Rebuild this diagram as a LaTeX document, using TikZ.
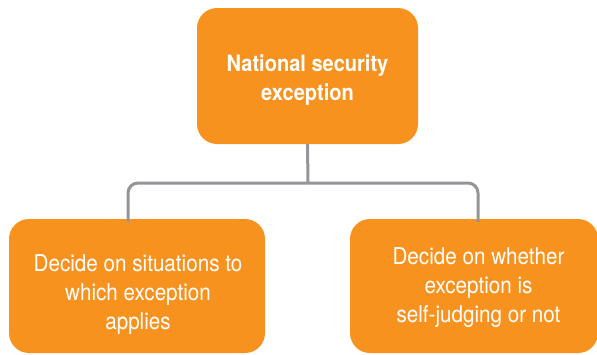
\documentclass[tikz,border=0pt]{standalone}
\usepackage{fontspec}
\setmainfont{TeX Gyre Heros}[FakeStretch=0.89]
\usepackage{tikz}
\usetikzlibrary{positioning,calc}
\definecolor{boxorange}{HTML}{F7921E}
\definecolor{linkgray}{HTML}{939598}
\tikzset{
  orgbox/.style={fill=boxorange,draw=none,rounded corners=20pt,inner sep=0pt},
  orgtext/.style={text=white,align=center,inner sep=0pt,font=\fontsize{23.2}{29}\selectfont},
  link/.style={draw=linkgray,line width=3pt}
}
\begin{document}
\begin{tikzpicture}[x=1pt,y=-1pt]
      \useasboundingbox (0,0) rectangle (597,354);
      \node[orgbox,minimum width=221pt,minimum height=136pt] (top) at (307.5,76) {};
      \node[orgbox,minimum width=256pt,minimum height=134pt] (left) at (137,286) {};
      \node[orgbox,minimum width=248pt,minimum height=134pt] (right) at (474,286) {};
      \node[orgtext,font=\fontsize{22.5}{29}\selectfont\bfseries] (toplabel) at ([yshift=-4pt]top.center) {National security\\exception};
      \node[orgtext] (leftlabel) at ([xshift=1pt,yshift=-9pt]left.center) {Decide on situations to\\which exception\\applies};
      \node[orgtext] (rightlabel) at ([xshift=4.5pt,yshift=-2pt]right.center) {Decide on whether\\exception is\\self-judging or not};
      \coordinate (hub) at (308,183);
      \draw[link] (top.south) -- (hub);
      \draw[link,rounded corners=10pt] (hub) -| ([xshift=-9pt,yshift=-3pt]left.north);
      \draw[link,rounded corners=10pt] (hub) -| ([xshift=4pt,yshift=-3pt]right.north);
    \end{tikzpicture}
\end{document}
